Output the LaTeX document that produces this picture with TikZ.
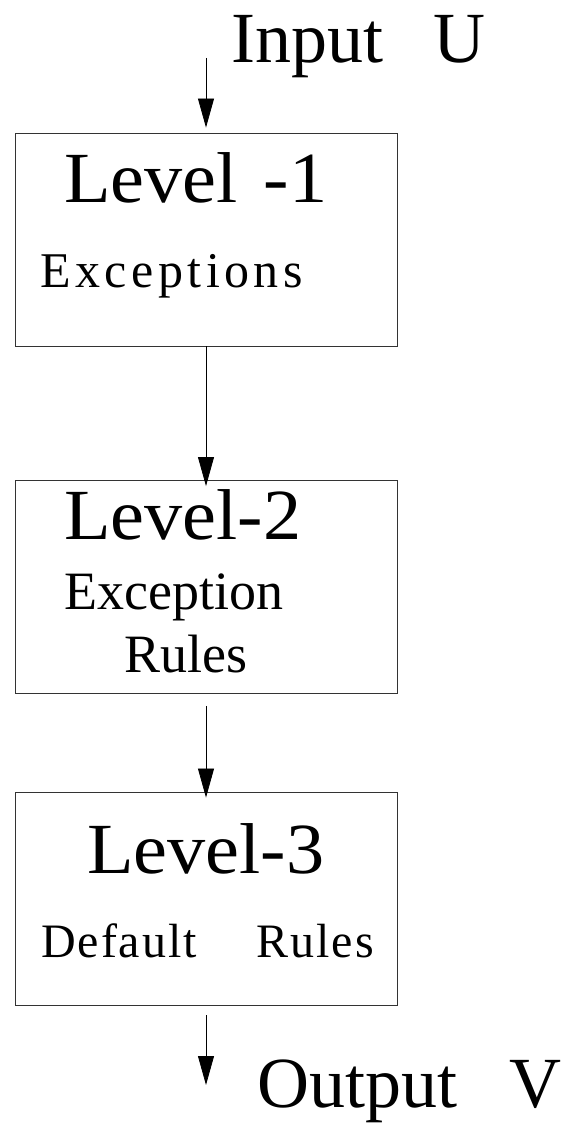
\documentclass[tikz,border=0pt]{standalone}
\usepackage{fontspec}
\setmainfont{Liberation Serif}
\newfontfamily\widefam[FakeStretch=1.06]{Liberation Serif}
\usetikzlibrary{arrows.meta, positioning}

\newcommand{\bigtxt}{\fontsize{72}{72}\selectfont}
\newcommand{\lvltxt}{\widefam\fontsize{72}{72}\selectfont}
\newcommand{\subtxt}{\fontsize{50}{60}\selectfont\addfontfeatures{LetterSpace=9}}
\newcommand{\deftxt}{\fontsize{48}{60}\selectfont\addfontfeatures{LetterSpace=4}}
\newcommand{\midtxt}{\fontsize{54}{60}\selectfont}

\tikzset{
  level/.style={draw=black!80, line width=0.9pt, minimum width=382pt, minimum height=213pt, inner sep=0pt},
  txt/.style={anchor=base west, inner sep=0pt},
  flow/.style={line width=0.8pt, -{Triangle[length=29pt,width=16pt]}}
}

\begin{document}
\begin{tikzpicture}[x=1pt,y=-1pt]
\useasboundingbox (0,0) rectangle (563,1126);

% the three levels
\node[level] (lev1) at (206,239.5) {};
\node[level] (lev2) at (206,587) {};
\node[level] (lev3) at (206,898.5) {};

% texts
\node[txt] (inp) at (231,63) {\bigtxt Input\hspace{50pt}U};
\node[txt] (l1) at (64,203) {\lvltxt Level\hspace{26pt}-1};
\node[txt] (l1b) at (40,287) {\subtxt Exceptions};
\node[txt] (l2) at (64,539) {\lvltxt Level-2};
\node[txt] (l2b) at (64,609) {\midtxt Exception};
\node[txt] (l2c) at (124,672) {\midtxt Rules};
\node[txt] (l3) at (87,873) {\lvltxt Level-3};
\node[txt] (l3b) at (41,957) {\deftxt Default\hspace{60pt}Rules};
\node[txt] (outp) at (257,1107) {\bigtxt Output\hspace{52pt}V};

% arrows
\coordinate (in) at (206,58);
\coordinate (out) at (206,1085);
\draw[flow, shorten >=5pt] (in) -- (lev1.north);
\draw[flow, shorten >=-6pt] (lev1.south) -- (lev2.north);
\draw[flow, shorten <=12pt, shorten >=-6pt] (lev2.south) -- (lev3.north);
\draw[flow, shorten <=10pt] (lev3.south) -- (out);
\end{tikzpicture}
\end{document}
